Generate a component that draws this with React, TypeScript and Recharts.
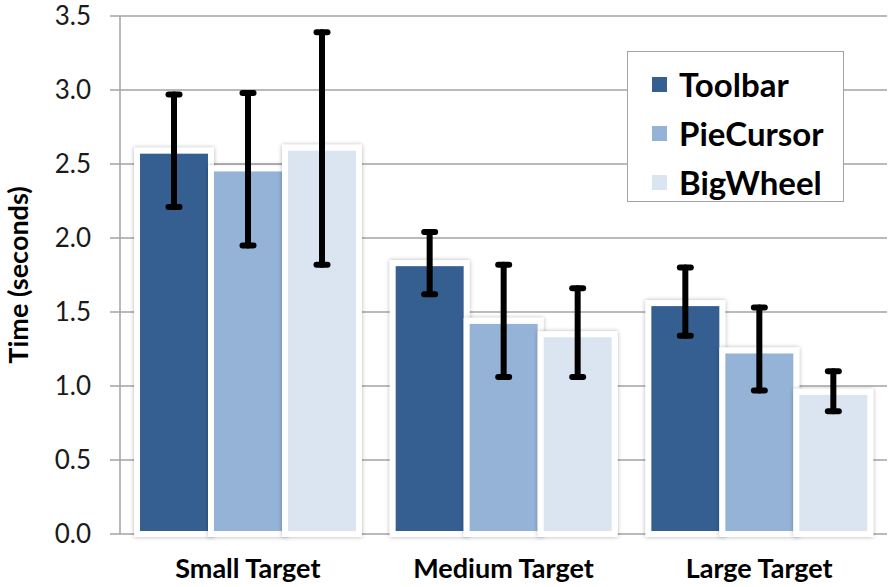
import React from 'react';
import {
  BarChart,
  Bar,
  XAxis,
  YAxis,
  CartesianGrid,
  ErrorBar,
  Legend,
} from 'recharts';

// Target size categories along the x axis
const categories = ['Small Target', 'Medium Target', 'Large Target'];

// Mean selection time (seconds) per technique
const toolbar = [2.59, 1.83, 1.56];
const pieCursor = [2.47, 1.44, 1.24];
const bigWheel = [2.61, 1.35, 0.96];

// Error bar extents (lower / upper bound, seconds)
const toolbarLow = [2.21, 1.62, 1.34];
const toolbarHigh = [2.97, 2.04, 1.8];
const pieCursorLow = [1.95, 1.06, 0.97];
const pieCursorHigh = [2.98, 1.82, 1.53];
const bigWheelLow = [1.82, 1.06, 0.83];
const bigWheelHigh = [3.39, 1.66, 1.1];

const yTicks = [0, 0.5, 1, 1.5, 2, 2.5, 3, 3.5];
const edgeTicks = [0, 1, 2, 3];

const series = [
  { key: 'toolbar', name: 'Toolbar', color: '#365F91', values: toolbar, low: toolbarLow, high: toolbarHigh },
  { key: 'pieCursor', name: 'PieCursor', color: '#95B3D7', values: pieCursor, low: pieCursorLow, high: pieCursorHigh },
  { key: 'bigWheel', name: 'BigWheel', color: '#DBE5F1', values: bigWheel, low: bigWheelLow, high: bigWheelHigh },
];

// Rows for the chart; error entries are [below, above] offsets from the mean
const data = categories.map((cat, i) => {
  const row: Record<string, any> = { category: cat };
  series.forEach((s) => {
    row[s.key] = s.values[i];
    row[s.key + 'Err'] = [s.values[i] - s.low[i], s.high[i] - s.values[i]];
  });
  return row;
});

const FONT = 'Lato, "Noto Sans", sans-serif';
const GRID = '#A3A3A3';

const GlowBar = (p: any) => (
  <rect
    x={p.x}
    y={p.y}
    width={p.width}
    height={p.height}
    fill={p.fill}
    stroke="#FFFFFF"
    strokeWidth={6}
    filter="url(#barGlow)"
  />
);

const LegendBox = () => (
  <div
    style={{
      width: '100%',
      height: '100%',
      boxSizing: 'border-box',
      border: `1.5px solid ${GRID}`,
      background: '#fff',
      paddingTop: 8,
      paddingLeft: 24,
    }}
  >
    {series.map((s) => (
      <div
        key={s.key}
        style={{ display: 'flex', alignItems: 'center', height: 49 }}
      >
        <span
          style={{
            display: 'inline-block',
            width: 15,
            height: 15,
            background: s.color,
            marginRight: 12,
          }}
        />
        <span
          style={{
            fontFamily: FONT,
            fontWeight: 700,
            fontSize: 33,
            color: '#000',
            lineHeight: 1,
          }}
        >
          {s.name}
        </span>
      </div>
    ))}
  </div>
);

const YTitle = (props: any) => {
  const vb = props.viewBox || { x: 0, y: 16, width: 120, height: 518 };
  const cx = vb.x + 17;
  const cy = vb.y + vb.height / 2;
  return (
    <text
      x={cx}
      y={cy}
      transform={`rotate(-90 ${cx} ${cy})`}
      textAnchor="middle"
      dominantBaseline="central"
      fontFamily={FONT}
      fontWeight={700}
      fontSize={27}
      fill="#000"
    >
      Time (seconds)
    </text>
  );
};

export default function App() {
  return (
    <div style={{ position: 'absolute', left: 0, top: 0, background: '#fff' }}>
      <BarChart
        width={896}
        height={587}
        data={data}
        margin={{ top: 16, right: 9, bottom: 0, left: 0 }}
        barCategoryGap={17}
        barGap={0}
      >
        <defs>
          <filter id="barGlow" x="-20%" y="-20%" width="140%" height="140%">
            <feDropShadow dx="0" dy="0" stdDeviation="2" floodColor="#000" floodOpacity="0.3" />
          </filter>
        </defs>
        <CartesianGrid vertical={false} stroke={GRID} strokeWidth={1.5} />
        <XAxis
          xAxisId="edge"
          type="number"
          domain={[0, 3]}
          ticks={edgeTicks}
          height={0}
          tick={false}
          tickSize={8}
          axisLine={{ stroke: GRID, strokeWidth: 1.5 }}
          tickLine={{ stroke: GRID, strokeWidth: 1.5 }}
        />
        <XAxis
          xAxisId="cat"
          dataKey="category"
          height={53}
          axisLine={false}
          tickLine={false}
          tickSize={0}
          tickMargin={25}
          interval={0}
          tick={{ fontFamily: FONT, fontWeight: 700, fontSize: 27, fill: '#000' }}
        />
        <YAxis
          width={120}
          type="number"
          domain={[0, 3.5]}
          ticks={yTicks}
          interval={0}
          tickFormatter={(v: number) => v.toFixed(1)}
          tickSize={10}
          tickMargin={19}
          axisLine={{ stroke: GRID, strokeWidth: 1.5 }}
          tickLine={{ stroke: GRID, strokeWidth: 1.5 }}
          tick={{ fontFamily: FONT, fontSize: 26, fill: '#1a1a1a' }}
          label={{ content: YTitle }}
        />
        {series.map((s) => (
          <Bar
            key={s.key}
            xAxisId="cat"
            dataKey={s.key}
            name={s.name}
            fill={s.color}
            shape={GlowBar}
            isAnimationActive={false}
          >
            <ErrorBar
              dataKey={s.key + 'Err'}
              direction="y"
              width={5.5}
              strokeWidth={6}
              stroke="#000"
              strokeLinecap="round"
              isAnimationActive={false}
            />
          </Bar>
        ))}
        <Legend
          layout="vertical"
          align="center"
          verticalAlign="middle"
          content={LegendBox}
          wrapperStyle={{ left: 627, top: 51, width: 217, height: 151 }}
        />
      </BarChart>
    </div>
  );
}
